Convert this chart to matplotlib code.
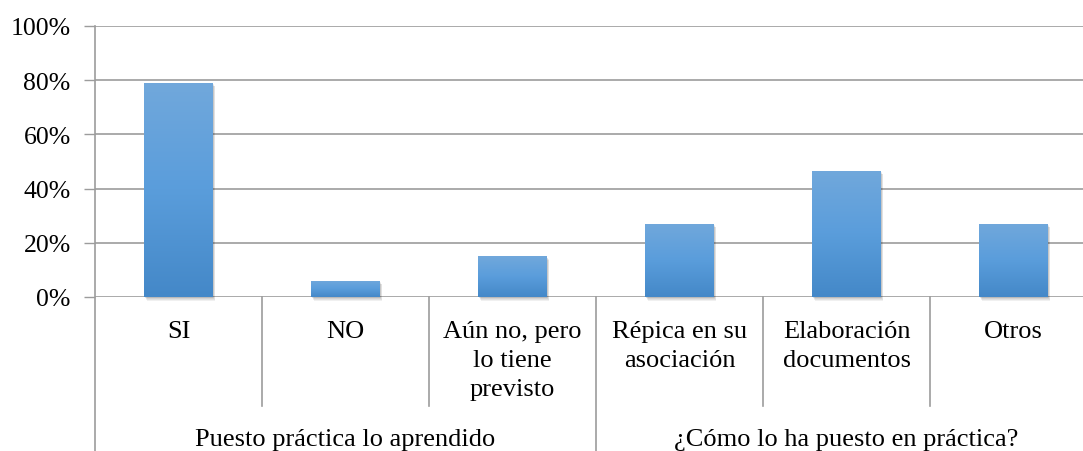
import matplotlib
matplotlib.use("Agg")
import matplotlib.pyplot as plt
import matplotlib.transforms as mtransforms
from matplotlib.patches import Rectangle
from matplotlib.colors import LinearSegmentedColormap
import numpy as np

categories = ["SI", "NO", "Aún no, pero\nlo tiene\nprevisto",
              "Répica en su\nasociación", "Elaboración\ndocumentos", "Otros"]
values = [0.79, 0.06, 0.15, 0.27, 0.465, 0.27]
groups = ["Puesto práctica lo aprendido", "¿Cómo lo ha puesto en práctica?"]
group_sizes = [3, 3]
yticks = [0, 0.2, 0.4, 0.6, 0.8, 1.0]
ytick_labels = ["0%", "20%", "40%", "60%", "80%", "100%"]

plt.rcParams['font.family'] = ['Liberation Serif', 'DejaVu Serif']
W, H = 1083, 452
fig = plt.figure(figsize=(W / 100, H / 100), dpi=100)
ax = fig.add_axes([95 / W, 1 - 298 / H, 1002 / W, 271 / H])

grid_c = "#9c9c9c"
fs = 19
fs_y = 18.5

x = np.arange(len(categories))
bars = ax.bar(x, values, width=0.41, color="none", zorder=3)

# gradient fill and soft shadow
grad = np.linspace(0, 1, 256).reshape(-1, 1)
cmap = LinearSegmentedColormap.from_list("g", ["#4488c8", "#5a9ddb", "#71a8dc"])
for b in bars:
    bx, bw, bh = b.get_x(), b.get_width(), b.get_height()
    for k in range(1, 6):
        off = mtransforms.offset_copy(ax.transData, fig=fig, x=k * 0.5, y=-k * 0.7, units='dots')
        sh = Rectangle((bx, 0), bw, bh, transform=off, facecolor="black",
                       alpha=0.06, edgecolor="none", zorder=2, clip_on=False)
        ax.add_patch(sh)
    im = ax.imshow(grad, extent=(bx, bx + bw, 0, bh), origin="lower", cmap=cmap,
                   aspect="auto", zorder=3)
    rect = Rectangle((bx, 0), bw, bh, transform=ax.transData, facecolor="none", edgecolor="none")
    ax.add_patch(rect)
    im.set_clip_path(rect)

ax.set_xlim(-0.5, len(categories) - 0.5)
ax.set_ylim(0, 1)
ax.set_aspect("auto")

for s in ax.spines.values():
    s.set_visible(False)

ax.set_yticks(yticks)
ax.set_yticklabels(ytick_labels, fontsize=fs_y)
ax.tick_params(axis="y", length=8, width=1.0, color=grid_c, pad=9.5)
ax.set_xticks([])
ax.yaxis.grid(True, color=grid_c, linewidth=1.2, zorder=0)
ax.set_axisbelow(True)

trans = mtransforms.blended_transform_factory(ax.transData, ax.transAxes)
bottom_full = -(H - 298) / 271
bottom_inner = -(407 - 298) / 271

# left axis line
ax.plot([-0.5, -0.5], [1, bottom_full], transform=trans, color=grid_c, lw=1.2, clip_on=False, zorder=1)

# separators
start = 0
for gi, n in enumerate(group_sizes):
    for j in range(1, n):
        xs = start + j - 0.5
        ax.plot([xs, xs], [0, bottom_inner], transform=trans, color=grid_c, lw=1.2, clip_on=False)
    end = start + n - 0.5
    ax.plot([end, end], [0, bottom_full], transform=trans, color=grid_c, lw=1.2, clip_on=False)
    ax.text((start + start + n - 1) / 2, -(446 - 298) / 271, groups[gi], transform=trans,
            ha="center", va="baseline", fontsize=fs)
    start += n

for i, c in enumerate(categories):
    ax.text(i, -(321 - 298) / 271, c, transform=trans, ha="center", va="top",
            fontsize=fs, linespacing=1.42, multialignment="center")

fig.savefig("out.png", dpi=100)
